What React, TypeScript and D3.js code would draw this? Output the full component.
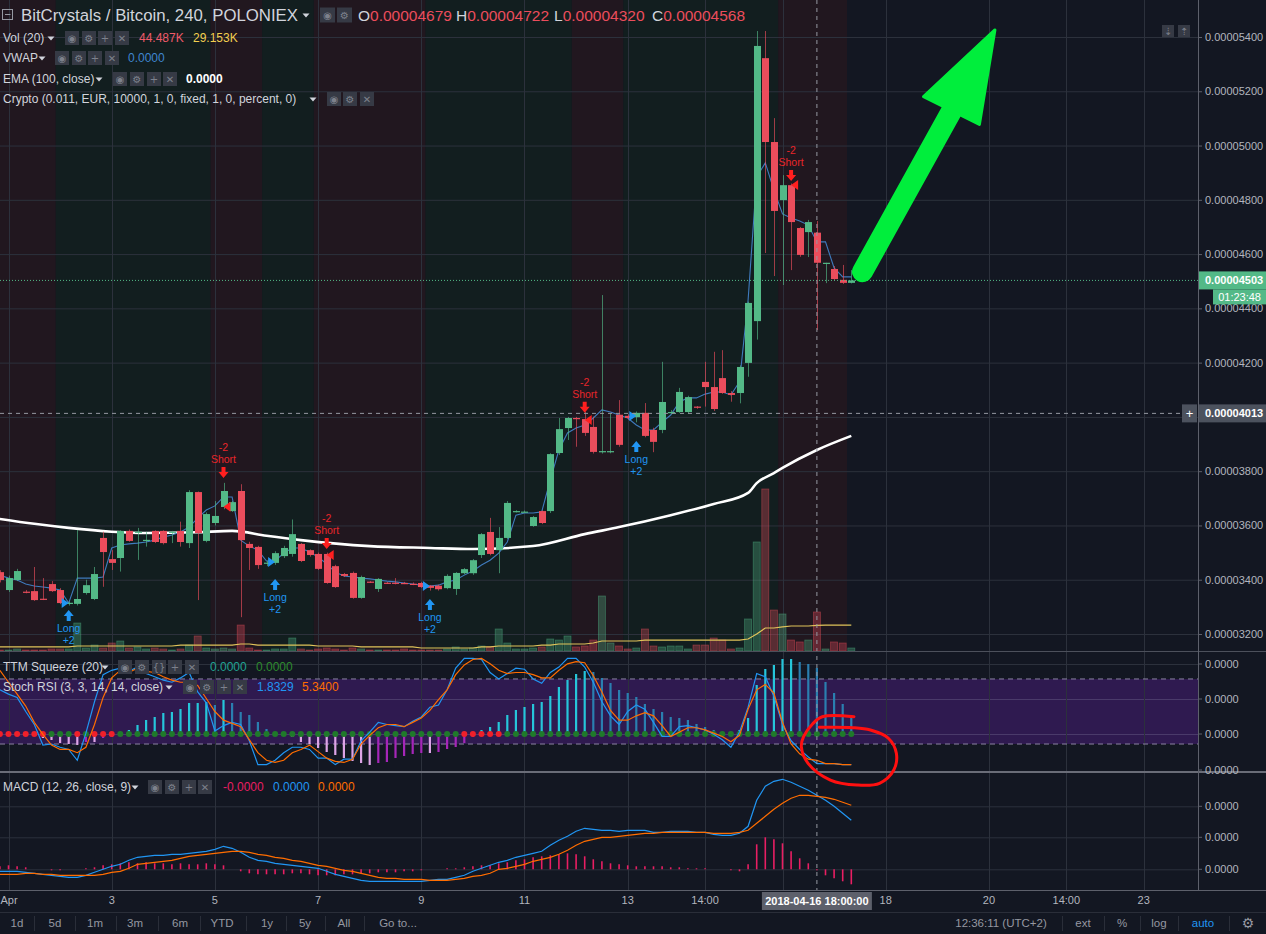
import React from "react";
import * as d3 from "d3";

// ---------- DATA (prices in satoshi, 1e-8 BTC; bar j = 4h bars, j=1 -> Apr 1 02:00) ----------
const opens = [3428,3362,3399,3356,3358,3330,3384,3362,3312,3311,3351,3329,3554,3476,3480,3580,3574,3545,3580,3580,3574,3580,3535,3723,3543,3609,3668,3653,3727,3532,3521,3460,3462,3487,3495,3532,3509,3495,3495,3450,3421,3425,3333,3393,3366,3389,3389,3388,3385,3388,3378,3378,3369,3366,3424,3424,3491,3576,3509,3554,3650,3650,3598,3653,3653,3867,3959,3996,3992,3963,3871,3871,4008,4004,3999,4015,3952,3952,4016,4018,4018,4038,4129,4110,4143,4088,4088,4199,4353,5322,5013,4799,4854,4696,4681,4679,4567,4545,4505,4494];
const highs = [3435,3415,3440,3362,3447,3406,3395,3369,3320,3583,3400,3447,3577,3509,3582,3585,3591,3577,3582,3582,3580,3614,3730,3725,3648,3690,3757,3690,3752,3540,3525,3470,3505,3525,3622,3535,3512,3500,3500,3455,3425,3430,3415,3395,3406,3392,3406,3392,3390,3392,3380,3382,3420,3428,3443,3476,3572,3628,3594,3690,3656,3655,3635,3655,3866,3996,4000,4000,4019,4001,4449,4013,4062,4010,4020,4051,3960,4203,4025,4107,4078,4040,4203,4240,4246,4095,4190,4425,5422,5422,5101,4891,4860,4700,4726,4722,4568,4556,4560,4541];
const lows = [3390,3355,3395,3350,3322,3325,3355,3310,3305,3305,3345,3325,3374,3436,3430,3540,3473,3522,3535,3530,3535,3522,3517,3325,3538,3600,3660,3650,3262,3436,3440,3450,3455,3480,3485,3465,3485,3436,3385,3370,3410,3330,3330,3388,3355,3385,3383,3384,3380,3370,3360,3360,3365,3344,3420,3418,3480,3490,3424,3550,3648,3648,3595,3605,3646,3860,3915,3890,3930,3865,3865,3866,3890,3990,3980,3925,3870,3940,4010,4015,4012,4030,4038,4022,4085,4056,4050,4148,4285,4604,4519,4486,4541,4590,4589,4320,4493,4501,4490,4492];
const closes = [3399,3406,3432,3354,3325,3328,3358,3314,3315,3329,3380,3421,3502,3462,3580,3543,3577,3547,3539,3535,3577,3539,3723,3572,3642,3635,3727,3686,3546,3517,3454,3463,3498,3517,3568,3469,3491,3440,3388,3373,3414,3333,3410,3391,3403,3388,3388,3387,3384,3373,3370,3365,3414,3425,3439,3472,3568,3495,3554,3683,3653,3651,3631,3609,3863,3955,3996,3992,3941,3871,3874,3874,3897,3996,4015,3930,3908,4055,4018,4092,4073,4034,4110,4029,4088,4081,4184,4420,5367,5013,4759,4854,4718,4597,4718,4568,4568,4508,4494,4503];
// volume in thousands
const volumes = [1.1,1.1,2.3,1.1,1.1,1.1,2.3,2.3,2.3,31.9,3.4,6.8,3.4,9.1,11.4,3.4,4.6,2.3,3.4,2.3,1.1,2.3,6.8,17.1,3.4,2.3,3.4,2.3,29.6,3.4,1.1,1.1,2.3,2.3,14.8,2.3,1.1,2.3,3.4,2.3,1.1,3.4,2.3,1.1,1.1,1.1,1.1,2.3,1.1,1.1,1.1,1.1,2.3,4.6,2.3,3.4,5.7,4.6,25.1,9.1,2.3,2.3,3.4,4.6,13.7,12.5,17.1,4.6,5.7,12.5,62.7,9.1,5.7,2.3,3.4,25.1,5.7,4.6,5.7,5.7,2.3,6.8,6.8,14.8,12.5,2.3,3.4,36.5,124.3,184.7,46.7,42.2,12.5,10.3,12.5,44.5,2.3,10.3,9.1,3.4];
const volumeMA = [4.6,4.6,4.6,4.6,4.6,4.6,4.6,4.6,4.6,5.7,5.7,5.7,5.7,5.7,5.7,5.7,5.7,5.7,5.7,5.7,5.7,6.8,6.8,6.8,6.8,6.8,6.8,6.8,8.0,8.0,6.8,6.8,6.8,6.8,6.8,6.8,6.8,5.7,5.7,5.7,5.7,5.7,4.6,4.6,4.6,4.6,4.6,4.6,4.6,3.4,3.4,3.4,3.4,3.4,3.4,3.4,4.6,4.6,5.7,5.7,5.7,5.7,5.7,6.8,6.8,8.0,8.0,8.0,8.0,9.1,11.4,11.4,11.4,11.4,11.4,12.5,12.5,12.5,12.5,12.5,12.5,12.5,12.5,12.5,12.5,12.5,12.5,13.7,19.4,26.2,26.2,27.4,28.5,28.5,28.5,29.2,29.6,29.6,29.6,29.6];
const vwap = [3417,3406,3399,3384,3377,3373,3369,3362,3314,3406,3406,3406,3410,3517,3528,3532,3535,3539,3546,3557,3565,3576,3594,3627,3657,3672,3705,3705,3546,3524,3509,3469,3469,3498,3517,3517,3502,3484,3458,3428,3414,3410,3406,3403,3399,3395,3392,3388,3384,3380,3377,3380,3392,3399,3417,3432,3454,3472,3498,3539,3638,3646,3646,3650,3768,3878,3941,3959,3970,3996,4026,4018,4007,3996,3970,3952,3952,3981,4007,4055,4070,4070,4084,4092,4092,4081,4129,4431,4884,4936,4836,4748,4733,4722,4707,4645,4645,4549,4516,4516];
const emaBars = [0,4,8,13,17,23,27,31,35,43,50,55,62,68,72,78,83,87,88,90,91,95,99];
const emaValues = [3624,3606,3591,3577,3572,3575,3580,3562,3546,3524,3517,3513,3524,3568,3594,3638,3679,3720,3756,3793,3812,3878,3930];
const stochK = [70,66,63,50,38,19,20,17,15,5,30,59,84,88,90,87,91,85,82,79,77,81,86,68,58,32,37,40,38,23,1,1,5,12,17,17,15,7,7,1,6,6,23,31,40,38,37,36,41,45,54,56,70,90,99,99,98,86,80,85,90,89,80,76,86,91,99,99,91,77,59,46,38,50,56,52,40,27,27,36,37,35,33,29,24,17,31,54,85,82,64,38,23,15,8,2,2,2,1,1];
const stochD = [88,77,66,55,40,29,19,15,15,12,17,38,63,81,88,86,90,87,86,82,79,77,77,74,62,50,42,39,36,24,12,5,3,5,12,15,19,13,7,4,3,6,20,28,35,38,38,36,40,44,51,61,70,84,93,98,99,94,88,85,86,86,84,81,81,88,94,96,95,83,68,51,42,42,46,49,46,37,27,31,35,35,33,30,27,22,28,52,70,75,67,40,20,11,6,5,2,2,1,1];
const squeeze = [0,0,-1,-1,-2,-4,-6,-9,-10,-11,-8,-8,-4,-3,0,4,9,14,17,21,22,25,31,31,32,29,34,31,22,19,12,5,1,-1,-3,-8,-10,-14,-18,-21,-24,-27,-29,-31,-29,-28,-24,-22,-20,-19,-19,-18,-15,-13,-9,-3,4,7,12,19,24,27,30,32,38,47,54,60,63,62,56,51,44,41,37,30,25,22,17,16,14,10,7,4,2,1,4,16,49,65,69,75,75,72,70,66,52,41,30,19];
const squeezeOnBars = [0,1,2,3,4,5,9,11,12,13,54,55,56,57,58];
const macdLine = [-2,-2,-2,-3,-4,-5,-6,-7,-8,-8,-6,-3,0,3,5,9,12,13,14,14,15,15,16,17,18,20,23,21,17,12,9,8,6,5,4,3,2,1,-2,-5,-7,-9,-11,-12,-12,-12,-12,-12,-12,-12,-11,-10,-10,-8,-6,-2,1,4,7,9,12,14,16,18,24,29,33,38,41,40,39,39,38,39,39,39,37,37,38,38,38,37,37,35,34,34,36,43,69,83,88,90,87,83,79,74,69,63,56,49];
const macdSignal = [-5,-5,-5,-4,-4,-5,-5,-6,-6,-6,-6,-6,-5,-3,-2,1,5,6,7,8,9,11,13,14,15,16,17,18,18,17,15,14,12,11,9,8,6,4,3,1,-1,-2,-4,-6,-8,-9,-9,-10,-10,-10,-11,-11,-11,-10,-9,-7,-6,-4,0,1,3,5,8,10,12,15,19,24,28,30,32,32,33,34,35,36,36,37,37,37,37,37,37,36,36,36,37,39,46,53,60,66,71,74,74,73,72,70,67,64];
const macdHist = [3,4,3,2,0,0,-1,-1,0,0,1,2,4,5,6,7,6,7,6,6,5,6,5,5,6,5,4,0,-2,-4,-5,-5,-5,-5,-4,-4,-5,-6,-6,-6,-5,-5,-4,-4,-3,-3,-3,-2,-2,-1,0,0,1,1,2,3,4,4,6,7,9,10,12,13,14,15,16,15,13,10,8,6,5,4,3,3,3,3,2,2,1,1,1,0,0,-1,-2,5,25,32,30,26,18,11,6,-1,-6,-9,-12,-15];
const zoneStart = [0,7,25,31,37,50,67,73,91];
const zoneEnd = [6,24,30,36,49,66,72,90,98];
const zoneBull = [false,true,false,true,false,true,false,true,false];
const longBars = [8,32,50,74];
const longArrowPrice = [3266,3381,3307,3889];
const longTrianglePrice = [3314,3465,3377,4003];
const shortBars = [26,38,68,92];
const shortArrowPrice = [3797,3535,4037,4891];
const shortTrianglePrice = [3669,3491,3989,4855];
const priceTicks = [3200,3400,3600,3800,4000,4200,4400,4600,4800,5000,5200,5400];
const timeTickBars = [1,13,25,37,49,61,73,82,91,103,115,124,133];
const timeTickLabels = ["Apr","3","5","7","9","11","13","14:00","16","18","20","14:00","23"];
const squeezeTicks = [-36,0,35,70];
const macdTicks = [0,32,63];
const lastPrice = 4503;
const crossBar = 95;
const crossPrice = 4013;
// hand-drawn annotations (bar, value)
const arrowPts = { tail: [100.3, 4535], neck: [110.6, 5124], tip: [115.7, 5426], left: [107.4, 5180], right: [113.9, 5078] };
const loopBars = [99.31,95.63,94.49,93.45,93.19,93.97,96.57,99.67,102.28,103.94,104.24,103.31,101.23,99.16,95.27];
const loopStoch = [45.2,45.2,38.5,26.8,17.5,2.2,-13.2,-17.8,-16.2,-4.0,11.4,25.3,32.9,35.1,35.4];

const FONT = "'Liberation Sans', Arial, Helvetica, sans-serif";
const GLYPH = "'DejaVu Sans', sans-serif";
const UP = "#53b987";
const DOWN = "#eb4d5c";
const BG = "#131722";
const GRID = "#2c313c";
const AXT = "#b2b5be";
const LEG = "#d1d4dc";

export default function App() {
  const W = 1266, H = 934, PR = 1198;
  const x = d3.scaleLinear().domain([0, 99]).range([-0.1, 851.3]);
  const yP = d3.scaleLinear().domain([3200, 5400]).range([634, 37]);
  const yV = d3.scaleLinear().domain([0, 114]).range([651, 551]);
  const yS = d3.scaleLinear().domain([0, 100]).range([765.7, 657.3]);
  const yQ = d3.scaleLinear().domain([0, 100]).range([734, 634]);
  const yM = d3.scaleLinear().domain([0, 100]).range([869.3, 769.3]);
  const fmtP = (p: number) => (p * 1e-8).toFixed(8);

  const seriesLine = (arr: number[], ys: (v: number) => number) =>
    d3.line<number>().x((_, i) => x(i)).y((v) => ys(v))(arr) || "";

  const emaPath = d3.line<number[]>().x((d) => x(d[0])).y((d) => yP(d[1])).curve(d3.curveMonotoneX)(
    emaBars.map((b, i) => [b, emaValues[i]])
  ) || "";

  const iconRow = (xs: number[], yc: number, glyphs: string[], size = 14) =>
    xs.map((x0, k) => (
      <g key={k}>
        <rect x={x0} y={yc - size / 2} width={size} height={size} fill="#363a45" />
        <text x={x0 + size / 2} y={yc + 3.5} textAnchor="middle" fontSize={10} fill="#7d818c" fontFamily={GLYPH}>{glyphs[k]}</text>
      </g>
    ));
  const caret = (cx: number, yc: number) => (
    <path d={`M${cx - 3.5},${yc - 1.5} L${cx + 3.5},${yc - 1.5} L${cx},${yc + 2.5} Z`} fill={LEG} />
  );

  const zoneHalf = 4.3;
  const timeX = timeTickBars.map((b) => x(b));
  const crossX = x(crossBar);

  const loopPath = d3.line<number[]>().x((d) => x(d[0])).y((d) => yS(d[1])).curve(d3.curveCatmullRom)(
    loopBars.map((b, i) => [b, loopStoch[i]])
  ) || "";

  const P = (pt: number[]) => [x(pt[0]), yP(pt[1])];
  const aTail = P(arrowPts.tail), aNeck = P(arrowPts.neck), aTip = P(arrowPts.tip), aL = P(arrowPts.left), aR = P(arrowPts.right);

  // tick labels hidden behind the crosshair / last-price labels
  const visiblePriceTicks = priceTicks.filter((p) => Math.abs(yP(p) - yP(crossPrice)) > 12 && Math.abs(yP(p) - yP(lastPrice)) > 12);

  return (
    <div style={{ position: "fixed", left: 0, top: 0 }}>
      <svg width={W} height={H} style={{ display: "block", background: BG }} fontFamily={FONT}>
        <rect x={0} y={0} width={W} height={H} fill={BG} />
        {/* crypto zones */}
        {zoneStart.map((s, k) => (
          <rect key={k} x={Math.max(0, x(s) - zoneHalf)} y={0} width={x(zoneEnd[k]) + zoneHalf - Math.max(0, x(s) - zoneHalf)} height={651}
            fill={zoneBull[k] ? "#121e1f" : "#21171f"} />
        ))}
        {/* purple stoch band */}
        <rect x={0} y={yS(80)} width={PR} height={yS(20) - yS(80)} fill="#2f1a50" />
        {/* grid */}
        {priceTicks.map((p) => (
          <line key={p} x1={0} x2={PR} y1={yP(p) + 0.5} y2={yP(p) + 0.5} stroke={GRID} />
        ))}
        {squeezeTicks.filter((t) => t >= 0).map((t) => (
          <line key={"q" + t} x1={0} x2={PR} y1={yQ(t) + 0.5} y2={yQ(t) + 0.5} stroke={t === 70 ? GRID : "#4a3a6a"} />
        ))}
        {macdTicks.map((t) => (
          <line key={"m" + t} x1={0} x2={PR} y1={yM(t) + 0.5} y2={yM(t) + 0.5} stroke={GRID} />
        ))}
        {timeX.filter((tx) => tx < PR).map((tx, k) => (
          <line key={"t" + k} x1={Math.round(tx) + 0.5} x2={Math.round(tx) + 0.5} y1={0} y2={890} stroke={GRID} />
        ))}
        <line x1={0} x2={PR} y1={yS(80)} y2={yS(80)} stroke="#8c84a3" strokeDasharray="5 4" />
        <line x1={0} x2={PR} y1={yS(20)} y2={yS(20)} stroke="#8c84a3" strokeDasharray="5 4" />

        {/* volume */}
        {volumes.map((v, j) => {
          const up = closes[j] >= opens[j];
          return (
            <rect key={"v" + j} x={x(j) - 3.5} y={yV(v)} width={7} height={651 - yV(v)}
              fill={up ? "rgba(83,185,135,0.32)" : "rgba(235,77,92,0.32)"}
              stroke={up ? "rgba(83,185,135,0.45)" : "rgba(235,77,92,0.45)"} strokeWidth={0.8} />
          );
        })}
        <path d={seriesLine(volumeMA, yV)} fill="none" stroke="#e0c35a" strokeWidth={1.2} />
        {/* EMA */}
        <path d={emaPath} fill="none" stroke="#ffffff" strokeWidth={2.6} />
        {/* VWAP */}
        <path d={seriesLine(vwap, yP)} fill="none" stroke="#3f7bbd" strokeWidth={1.1} />
        {/* candles */}
        {opens.map((o, j) => {
          const c = closes[j];
          const up = c >= o;
          const col = up ? UP : DOWN;
          const cx = Math.round(x(j)) + 0.5;
          const top = yP(Math.max(o, c));
          const bot = yP(Math.min(o, c));
          return (
            <g key={"c" + j}>
              <line x1={cx} x2={cx} y1={yP(highs[j])} y2={yP(lows[j])} stroke={col} strokeOpacity={0.65} />
              <rect x={cx - 3.5} y={top} width={7} height={Math.max(1.2, bot - top)} fill={col} />
            </g>
          );
        })}
        {/* strategy markers */}
        {longBars.map((b, k) => {
          const cx = x(b);
          const ya = yP(longArrowPrice[k]);
          const tx = x(b) - 4, ty = yP(longTrianglePrice[k]);
          return (
            <g key={"L" + b}>
              <path d={`M${tx + 4},${ty} L${tx - 3},${ty - 5} L${tx - 3},${ty + 5} Z`} fill="#2196f3" />
              <path d={`M${cx},${ya - 6} L${cx + 5},${ya} L${cx + 2},${ya} L${cx + 2},${ya + 5} L${cx - 2},${ya + 5} L${cx - 2},${ya} L${cx - 5},${ya} Z`} fill="#2196f3" />
              <text x={cx} y={ya + 16} textAnchor="middle" fontSize={10.5} fill="#2196f3">Long</text>
              <text x={cx} y={ya + 28} textAnchor="middle" fontSize={10.5} fill="#2196f3">+2</text>
            </g>
          );
        })}
        {shortBars.map((b, k) => {
          const cx = x(b);
          const ya = yP(shortArrowPrice[k]);
          const tx = x(b) + 4, ty = yP(shortTrianglePrice[k]);
          return (
            <g key={"S" + b}>
              <path d={`M${tx - 4},${ty} L${tx + 3},${ty - 5} L${tx + 3},${ty + 5} Z`} fill="#ff1f1f" />
              <path d={`M${cx},${ya + 6} L${cx + 5},${ya} L${cx + 2},${ya} L${cx + 2},${ya - 5} L${cx - 2},${ya - 5} L${cx - 2},${ya} L${cx - 5},${ya} Z`} fill="#ff1f1f" />
              <text x={cx} y={ya - 9} textAnchor="middle" fontSize={10.5} fill="#e8262a">Short</text>
              <text x={cx} y={ya - 21} textAnchor="middle" fontSize={10.5} fill="#e8262a">-2</text>
            </g>
          );
        })}

        {/* TTM squeeze histogram */}
        {squeeze.map((v, j) => {
          if (v === 0) return null;
          const prev = j > 0 ? squeeze[j - 1] : v;
          let col;
          if (v > 0) col = v >= prev ? "#26c6da" : "#2a7fb0";
          else col = v <= prev ? "#dda3e6" : "#a526b8";
          return <line key={"q" + j} x1={x(j)} x2={x(j)} y1={yQ(0)} y2={yQ(v)} stroke={col} strokeWidth={2.2} />;
        })}
        {squeeze.map((_, j) => (
          <circle key={"d" + j} cx={x(j)} cy={yQ(0)} r={3} fill={squeezeOnBars.includes(j) ? "#f0202a" : "#1f7a2a"} />
        ))}
        {/* Stoch RSI */}
        <path d={seriesLine(stochK, yS)} fill="none" stroke="#2196f3" strokeWidth={1.2} />
        <path d={seriesLine(stochD, yS)} fill="none" stroke="#ff6d00" strokeWidth={1.2} />

        {/* MACD */}
        {macdHist.map((v, j) => v === 0 ? null : (
          <line key={"h" + j} x1={x(j)} x2={x(j)} y1={yM(0)} y2={yM(v)} stroke="#e91e63" strokeWidth={1.6} />
        ))}
        <path d={seriesLine(macdLine, yM)} fill="none" stroke="#2196f3" strokeWidth={1.2} />
        <path d={seriesLine(macdSignal, yM)} fill="none" stroke="#ff6d00" strokeWidth={1.2} />

        {/* last price line */}
        <line x1={0} x2={PR} y1={yP(lastPrice)} y2={yP(lastPrice)} stroke={UP} strokeDasharray="1 2" />
        {/* crosshair */}
        <line x1={crossX} x2={crossX} y1={0} y2={890} stroke="#9598a1" strokeDasharray="4 4" />
        <line x1={0} x2={PR} y1={yP(crossPrice)} y2={yP(crossPrice)} stroke="#9598a1" strokeDasharray="4 4" />

        {/* pane separators / axes */}
        <line x1={0} x2={W} y1={651.5} y2={651.5} stroke="#4c505b" />
        <line x1={0} x2={W} y1={772} y2={772} stroke="#6a6d78" strokeWidth={2} />
        <line x1={0} x2={W} y1={890.5} y2={890.5} stroke="#5d606b" />
        <line x1={PR + 0.5} x2={PR + 0.5} y1={0} y2={890} stroke="#5d606b" />
        <line x1={0} x2={W} y1={912.5} y2={912.5} stroke="#2a2e39" />

        {/* price axis */}
        {priceTicks.map((p) => (
          <line key={"pt" + p} x1={PR} x2={PR + 4} y1={yP(p) + 0.5} y2={yP(p) + 0.5} stroke="#5d606b" />
        ))}
        {visiblePriceTicks.map((p) => (
          <text key={"pl" + p} x={1205} y={yP(p) + 4} fontSize={11} fill={AXT}>{fmtP(p)}</text>
        ))}
        {squeezeTicks.map((t) => (
          <g key={"ql" + t}>
            <line x1={PR} x2={PR + 4} y1={yQ(t)} y2={yQ(t)} stroke="#5d606b" />
            <text x={1205} y={yQ(t) + 4} fontSize={11} fill={AXT}>0.0000</text>
          </g>
        ))}
        {macdTicks.map((t) => (
          <g key={"ml" + t}>
            <line x1={PR} x2={PR + 4} y1={yM(t)} y2={yM(t)} stroke="#5d606b" />
            <text x={1205} y={yM(t) + 4} fontSize={11} fill={AXT}>0.0000</text>
          </g>
        ))}
        {/* last price label */}
        <rect x={PR + 1} y={yP(lastPrice) - 9} width={W - PR - 1} height={18} fill={UP} />
        <text x={1205} y={yP(lastPrice) + 4} fontSize={11} fill="#ffffff" fontWeight="bold">{fmtP(lastPrice)}</text>
        <rect x={1213} y={yP(lastPrice) + 9} width={W - 1213} height={15} fill={UP} />
        <text x={1261} y={yP(lastPrice) + 20.5} fontSize={11} fill="#ffffff" textAnchor="end">01:23:48</text>
        {/* crosshair price label */}
        <rect x={PR + 1} y={yP(crossPrice) - 9} width={W - PR - 1} height={18} fill="#4c525e" />
        <text x={1205} y={yP(crossPrice) + 4} fontSize={11} fill="#ffffff" fontWeight="bold">{fmtP(crossPrice)}</text>
        <rect x={1182} y={yP(crossPrice) - 9} width={15} height={18} fill="#4c525e" />
        <text x={1189.5} y={yP(crossPrice) + 4.5} fontSize={13} fill="#ffffff" textAnchor="middle">+</text>

        {/* time axis (the label under the crosshair box is hidden, as in the source) */}
        {timeX.map((tx, k) => Math.abs(tx - crossX) < 45 ? null : (
          <text key={"tl" + k} x={Math.max(tx, 9)} y={904} fontSize={11} fill={AXT} textAnchor="middle">{timeTickLabels[k]}</text>
        ))}
        <rect x={crossX - 55} y={892} width={110} height={18} fill="#5d606b" />
        <text x={crossX} y={905} fontSize={11} fill="#ffffff" textAnchor="middle" fontWeight="bold">2018-04-16 18:00:00</text>

        {/* bottom toolbar */}
        {[["1d", 17], ["5d", 55], ["1m", 95], ["3m", 135], ["6m", 180], ["YTD", 222], ["1y", 267], ["5y", 305], ["All", 344], ["Go to...", 398]].map(([t, px]) => (
          <text key={"b" + t} x={px as number} y={927} fontSize={11.5} fill="#9598a1" textAnchor="middle">{t}</text>
        ))}
        {[34, 75, 116, 158, 200, 246, 286, 325, 364].map((sx) => (
          <line key={"bs" + sx} x1={sx + 0.5} x2={sx + 0.5} y1={916} y2={931} stroke="#2a2e39" />
        ))}
        <text x={1001} y={927} fontSize={11.5} fill="#9598a1" textAnchor="middle">12:36:11 (UTC+2)</text>
        {[1062, 1104, 1140, 1178, 1229].map((sx) => (
          <line key={"br" + sx} x1={sx + 0.5} x2={sx + 0.5} y1={916} y2={931} stroke="#2a2e39" />
        ))}
        <text x={1083} y={927} fontSize={11.5} fill="#9598a1" textAnchor="middle">ext</text>
        <text x={1122} y={927} fontSize={11.5} fill="#9598a1" textAnchor="middle">%</text>
        <text x={1159} y={927} fontSize={11.5} fill="#9598a1" textAnchor="middle">log</text>
        <text x={1203} y={927} fontSize={11.5} fill="#2196f3" textAnchor="middle">auto</text>
        <text x={1248} y={928} fontSize={14} fill="#9598a1" textAnchor="middle" fontFamily={GLYPH}>⚙</text>

        {/* header legends */}
        <rect x={2.5} y={9.5} width={10} height={10} fill="none" stroke="#9598a1" />
        <line x1={5} x2={10.5} y1={14.5} y2={14.5} stroke="#9598a1" />
        <text x={21} y={21} fontSize={16.8} fill={LEG}>BitCrystals / Bitcoin, 240, POLONIEX</text>
        {caret(306, 15)}
        {iconRow([320, 337], 15, ["◉", "⚙"], 15)}
        <text y={21} fontSize={15.5}>
          <tspan x={358} fill={LEG}>O</tspan><tspan fill={DOWN}>0.00004679</tspan>
          <tspan x={456} fill={LEG}>H</tspan><tspan fill={DOWN}>0.00004722</tspan>
          <tspan x={554} fill={LEG}>L</tspan><tspan fill={DOWN}>0.00004320</tspan>
          <tspan x={652} fill={LEG}>C</tspan><tspan fill={DOWN}>0.00004568</tspan>
        </text>
        <text x={3} y={42} fontSize={12} fill={LEG}>Vol (20)</text>
        {caret(51, 38)}
        {iconRow([65, 82, 98, 115], 38, ["◉", "⚙", "+", "✕"])}
        <text x={139} y={42} fontSize={12} fill="#ef5a6a">44.487K</text>
        <text x={193} y={42} fontSize={12} fill="#f2cf4f">29.153K</text>
        <text x={3} y={62} fontSize={12} fill={LEG}>VWAP</text>
        {caret(42, 58)}
        {iconRow([55, 72, 88, 105], 58, ["◉", "⚙", "+", "✕"])}
        <text x={128} y={62} fontSize={12} fill="#3f86d0">0.0000</text>
        <text x={3} y={83} fontSize={12} fill={LEG}>EMA (100, close)</text>
        {caret(99, 79)}
        {iconRow([113, 130, 147, 163], 79, ["◉", "⚙", "+", "✕"])}
        <text x={186} y={83} fontSize={12} fill="#ffffff" fontWeight="bold">0.0000</text>
        <text x={3} y={103} fontSize={12} fill={LEG}>Crypto (0.011, EUR, 10000, 1, 0, fixed, 1, 0, percent, 0)</text>
        {caret(313, 99)}
        {iconRow([327, 343, 360], 99, ["◉", "⚙", "✕"])}
        {/* top-right small buttons */}
        {iconRow([1162, 1178], 31, ["⇣", "⇡"], 12)}

        {/* lower pane legends */}
        <text x={3} y={671} fontSize={12} fill={LEG}>TTM Squeeze (20)</text>
        {caret(105, 667)}
        {iconRow([118, 135, 152, 168, 185], 667, ["◉", "⚙", "{}", "+", "✕"])}
        <text x={210} y={671} fontSize={12} fill="#21a393">0.0000</text>
        <text x={256} y={671} fontSize={12} fill="#2e8b2e">0.0000</text>
        <text x={3} y={691} fontSize={12} fill={LEG}>Stoch RSI (3, 3, 14, 14, close)</text>
        {caret(169, 687)}
        {iconRow([183, 200, 217, 233], 687, ["◉", "⚙", "+", "✕"])}
        <text x={257} y={691} fontSize={12} fill="#2196f3">1.8329</text>
        <text x={302} y={691} fontSize={12} fill="#ff6d00">5.3400</text>
        <text x={3} y={791} fontSize={12} fill={LEG}>MACD (12, 26, close, 9)</text>
        {caret(135, 787)}
        {iconRow([148, 165, 182, 198], 787, ["◉", "⚙", "+", "✕"])}
        <text x={223} y={791} fontSize={12} fill="#e91e63">-0.0000</text>
        <text x={273} y={791} fontSize={12} fill="#2196f3">0.0000</text>
        <text x={318} y={791} fontSize={12} fill="#ff6d00">0.0000</text>

        {/* hand-drawn annotations */}
        <line x1={aTail[0]} y1={aTail[1]} x2={aNeck[0]} y2={aNeck[1]} stroke="#00ee3c" strokeWidth={21} strokeLinecap="round" />
        <path d={`M${aTip[0]},${aTip[1]} L${aL[0]},${aL[1]} L${aR[0]},${aR[1]} Z`} fill="#00ee3c" stroke="#00ee3c" strokeWidth={3} strokeLinejoin="round" />
        <path d={loopPath} fill="none" stroke="#ff1010" strokeWidth={3} strokeLinecap="round" strokeLinejoin="round" />
      </svg>
    </div>
  );
}
